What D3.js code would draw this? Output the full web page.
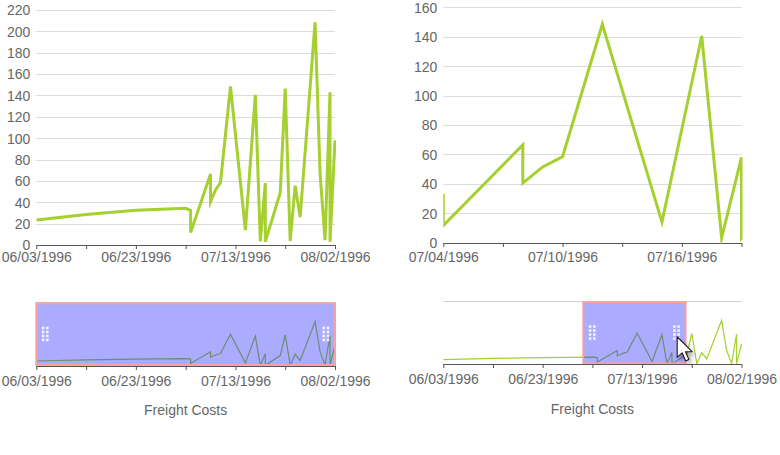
<!DOCTYPE html>
<html>
<head>
<meta charset="utf-8">
<title>Freight Costs</title>
<script src="https://cdn.jsdelivr.net/npm/d3@7"></script>
<style>
    body { margin: 0; background: #fff; font-family: Arial, "Liberation Sans", sans-serif; }
    .axis text, .lbl { fill: #666; font-size: 14px; font-family: Arial, "Liberation Sans", sans-serif; }
    .axis path, .axis line { stroke: #555; }
    .grid line { stroke: #dcdcdc; }
</style>
</head>
<body>
<svg id="chart" width="780" height="455"></svg>
<script>
// data
var orderDates = ["1996-06-03", "1996-06-13", "1996-06-23", "1996-07-03", "1996-07-04", "1996-07-04",
                  "1996-07-08", "1996-07-08", "1996-07-09", "1996-07-10", "1996-07-12", "1996-07-15",
                  "1996-07-17", "1996-07-18", "1996-07-19", "1996-07-19", "1996-07-22", "1996-07-23",
                  "1996-07-24", "1996-07-25", "1996-07-26", "1996-07-29", "1996-07-30", "1996-07-31",
                  "1996-08-01", "1996-08-01", "1996-08-02"];
var freight = [23.4, 28.6, 32.6, 34.4, 32.4, 11.6,
               66.5, 40.5, 51.5, 58.5, 148.5, 14.0,
               140.5, 3.3, 58.0, 3.0, 49.0, 146.5,
               3.7, 55.5, 26.0, 208.6, 67.0, 4.6,
               143.0, 3.0, 98.0];

var fullRange = ["1996-06-03", "1996-08-02"];
var zoomRange = ["1996-07-04", "1996-07-19"];
var brushLeft = ["1996-06-03", "1996-08-02"];
var brushRight = ["1996-07-01T04:00", "1996-07-21T18:00"];

var fullTicks = ["1996-06-03", "1996-06-13", "1996-06-23", "1996-07-03", "1996-07-13", "1996-07-23", "1996-08-02"];
var zoomTicks = ["1996-07-04", "1996-07-07", "1996-07-10", "1996-07-13", "1996-07-16", "1996-07-19"];
var yTicksLeft = [0, 20, 40, 60, 80, 100, 120, 140, 160, 180, 200, 220];
var yTicksRight = [0, 20, 40, 60, 80, 100, 120, 140, 160];
var navTicks = [0, 300];

var titleText = "Freight Costs";

var p1 = d3.timeParse("%Y-%m-%dT%H:%M"), p2 = d3.timeParse("%Y-%m-%d");
function parseDate(s) { return p1(s) || p2(s); }
var fmt = d3.timeFormat("%m/%d/%Y");

var data = orderDates.map(function(d, i) { return { date: parseDate(d), value: freight[i] }; });

var svg = d3.select("#chart");
var green = "#a6cf30";

// 两组图的布局
var panels = [
    { x0: 36.3, x1: 335, main: { top: 10, bottom: 245, yMax: 220, yTicks: yTicksLeft, pad: 3 },
      domain: fullRange, ticks: fullTicks,
      nav: { top: 302, bottom: 366, axisY: 365.7, rectTop: 303.3, rectBottom: 365, pad: 6 },
      brush: brushLeft, titleY: 415, cursor: false },
    { x0: 443.3, x1: 741.5, main: { top: 7.3, bottom: 242.7, yMax: 160, yTicks: yTicksRight, pad: 5.3 },
      domain: zoomRange, ticks: zoomTicks,
      nav: { top: 301, bottom: 364.5, axisY: 364.3, rectTop: 302, rectBottom: 363.5, pad: 5.7 },
      brush: brushRight, titleY: 413.5, cursor: true }
];

panels.forEach(function(p, pi) {
    var g = svg.append("g");
    var m = p.main;

    // ---- main chart ----
    var x = d3.scaleTime().domain(p.domain.map(parseDate)).range([p.x0, p.x1]);
    var y = d3.scaleLinear().domain([0, m.yMax]).range([m.bottom, m.top]);

    g.append("g").attr("class", "grid")
        .selectAll("line").data(m.yTicks.filter(function(t) { return t > 0; }))
        .enter().append("line")
        .attr("x1", p.x0).attr("x2", p.x1)
        .attr("y1", function(d) { return Math.round(y(d)) + 0.5; })
        .attr("y2", function(d) { return Math.round(y(d)) + 0.5; });

    var yAxis = d3.axisLeft(y).tickValues(m.yTicks).tickSize(0).tickPadding(6);
    var ya = g.append("g").attr("class", "axis").attr("transform", "translate(" + p.x0 + ",0)").call(yAxis);
    ya.select(".domain").remove();
    ya.selectAll("text").attr("dy", "0.35em");

    var tickDates = p.ticks.map(parseDate);
    var xAxis = d3.axisBottom(x).tickValues(tickDates).tickSize(4).tickPadding(m.pad)
        .tickSizeOuter(0)
        .tickFormat(function(d, i) { return i % 2 === 0 ? fmt(d) : ""; });
    g.append("g").attr("class", "axis")
        .attr("transform", "translate(0," + Math.round(m.bottom) + ")").call(xAxis);

    var clipId = "clip" + pi;
    svg.append("clipPath").attr("id", clipId).append("rect")
        .attr("x", p.x0).attr("y", m.top - 5).attr("width", p.x1 - p.x0 + 1).attr("height", m.bottom - m.top + 6);

    var line = d3.line().x(function(d) { return x(d.date); }).y(function(d) { return y(d.value); });
    g.append("path").datum(data)
        .attr("clip-path", "url(#" + clipId + ")")
        .attr("d", line)
        .attr("fill", "none").attr("stroke", green).attr("stroke-width", 3)
        .attr("stroke-linejoin", "miter").attr("stroke-miterlimit", 6);

    // ---- navigator ----
    var n = p.nav;
    var nx = d3.scaleTime().domain(fullRange.map(parseDate)).range([p.x0, p.x1]);
    var ny = d3.scaleLinear().domain([navTicks[0], navTicks[1]]).range([n.bottom, n.top]);

    g.append("line")
        .attr("x1", p.x0).attr("x2", p.x1)
        .attr("y1", Math.round(ny(navTicks[1])) + 0.5).attr("y2", Math.round(ny(navTicks[1])) + 0.5)
        .attr("stroke", "#d0d0d0");

    var nline = d3.line().x(function(d) { return nx(d.date); }).y(function(d) { return ny(d.value); });
    g.append("path").datum(data)
        .attr("d", nline)
        .attr("fill", "none").attr("stroke", green).attr("stroke-width", 1.2);

    var bx0 = nx(parseDate(p.brush[0])), bx1 = nx(parseDate(p.brush[1]));
    g.append("rect")
        .attr("x", bx0).attr("y", n.rectTop)
        .attr("width", bx1 - bx0).attr("height", n.rectBottom - n.rectTop)
        .attr("fill", "rgb(0,0,255)").attr("fill-opacity", 0.33)
        .attr("stroke", "#f6a2a2").attr("stroke-width", 2);

    // 拖动手柄上的小点
    [bx0 + 5.5, bx1 - 12.5].forEach(function(gx) {
        var gy = (n.rectTop + n.rectBottom) / 2 - 7.5;
        for (var r = 0; r < 4; r++) {
            for (var c = 0; c < 2; c++) {
                g.append("rect")
                    .attr("x", gx + c * 4.2).attr("y", gy + r * 4)
                    .attr("width", 2.6).attr("height", 2.6)
                    .attr("fill", "#fff").attr("fill-opacity", 0.85);
            }
        }
    });

    var nAxis = d3.axisBottom(nx).tickValues(fullTicks.map(parseDate)).tickSize(4).tickPadding(n.pad)
        .tickSizeOuter(0)
        .tickFormat(function(d, i) { return i % 2 === 0 ? fmt(d) : ""; });
    g.append("g").attr("class", "axis")
        .attr("transform", "translate(0," + Math.round(n.axisY) + ")").call(nAxis);

    g.append("text").attr("class", "lbl")
        .attr("x", (p.x0 + p.x1) / 2).attr("y", p.titleY)
        .attr("text-anchor", "middle")
        .text(titleText);

    // 鼠标指针
    if (p.cursor) {
        var cx = bx1 - 8.4, cy = (n.rectTop + n.rectBottom) / 2 + 4;
        var arrow = "M0,0 L0,18 L4.3,14 L7.4,21 L10.2,19.8 L7.2,13 L13,13 Z";
        var defs = svg.append("defs");
        defs.append("filter").attr("id", "blur").append("feGaussianBlur").attr("stdDeviation", 2);
        g.append("path").attr("d", arrow)
            .attr("transform", "translate(" + (cx + 3) + "," + (cy + 4) + ") scale(1.15)")
            .attr("fill", "#000").attr("opacity", 0.35).attr("filter", "url(#blur)");
        g.append("path").attr("d", arrow)
            .attr("transform", "translate(" + cx + "," + cy + ") scale(1.15)")
            .attr("fill", "#fff").attr("stroke", "#222").attr("stroke-width", 1)
            .attr("stroke-linejoin", "round");
    }
});
</script>
</body>
</html>
